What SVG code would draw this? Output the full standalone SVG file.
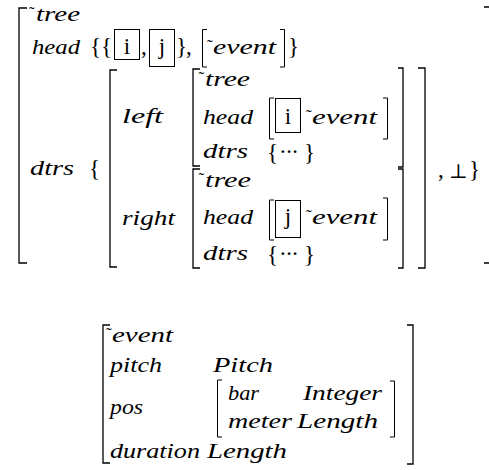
<svg xmlns="http://www.w3.org/2000/svg" width="489" height="470" viewBox="0 0 489 470">
  <style>
    .it { font-family: "Liberation Serif", "DejaVu Serif", serif; font-style: italic; font-size: 22px; fill: #000; }
    .rm { font-family: "Liberation Serif", "DejaVu Serif", serif; font-size: 23px; fill: #000; }
    .tl { font-family: "Liberation Serif", "DejaVu Serif", serif; font-size: 17px; fill: #000; }
    .sym { font-family: "DejaVu Serif", "Liberation Serif", serif; font-size: 20px; fill: #000; }
    .br { fill: none; stroke: #000; stroke-width: 1.3; }
    .ib { fill: none; stroke: #000; stroke-width: 1; }
    .bx { fill: none; stroke: #000; stroke-width: 1; }
  </style>
  <rect width="489" height="470" fill="#fff"/>

  <!-- tree structure -->
  <g id="tree-avm">
    <path class="br" d="M27,8 H19 V263 H27"/>
    <path class="br" d="M484,7 H490 V263 H484"/>
    <text class="tl" x="29" y="18">˜</text>
    <text class="it" x="36" y="21" textLength="44" lengthAdjust="spacingAndGlyphs">tree</text>

    <g id="tree-head">
      <text class="it" x="32" y="54" textLength="48" lengthAdjust="spacingAndGlyphs">head</text>
      <text class="rm" x="90" y="54">{</text>
      <text class="rm" x="101" y="54">{</text>
      <rect class="bx" x="114.5" y="29.5" width="25" height="30"/>
      <text class="rm" x="127" y="54" text-anchor="middle">i</text>
      <text class="rm" x="141" y="54">,</text>
      <rect class="bx" x="149.5" y="29.5" width="25" height="37"/>
      <text class="rm" x="162" y="54" text-anchor="middle">j</text>
      <text class="rm" x="176" y="54">}</text>
      <text class="rm" x="186" y="54">,</text>
      <path class="ib" d="M207,29.5 H202.5 V67 H207"/>
      <text class="tl" x="207" y="51">˜</text>
      <text class="it" x="213" y="54" textLength="63" lengthAdjust="spacingAndGlyphs">event</text>
      <path class="ib" d="M280,29.5 H284.5 V67 H280"/>
      <text class="rm" x="288" y="54">}</text>
    </g>

    <g id="tree-dtrs">
      <text class="it" x="30" y="175" textLength="44" lengthAdjust="spacingAndGlyphs">dtrs</text>
      <text class="rm" x="89" y="176">{</text>
      <path class="br" d="M117,70 H110 V267 H117"/>
      <path class="br" d="M418,68 H425 V268 H418"/>
      <text class="it" x="122" y="123" textLength="41" lengthAdjust="spacingAndGlyphs">left</text>
      <text class="it" x="122" y="225" textLength="53" lengthAdjust="spacingAndGlyphs">right</text>
      <text class="rm" x="438" y="177">,</text>
      <text class="sym" x="449" y="178">⊥</text>
      <text class="rm" x="469" y="177">}</text>
    </g>
  </g>

  <!-- left daughter -->
  <g id="left-avm">
    <path class="br" d="M200,69 H193 V166 H200"/>
    <path class="br" d="M398,68 H403 V167 H398"/>
    <text class="tl" x="198.5" y="83">˜</text>
    <text class="it" x="205" y="86" textLength="45" lengthAdjust="spacingAndGlyphs">tree</text>
    <text class="it" x="203" y="124" textLength="50" lengthAdjust="spacingAndGlyphs">head</text>
    <path class="ib" d="M274,98 H269.5 V139 H274"/>
    <rect class="bx" x="275.5" y="98.5" width="25" height="34"/>
    <text class="rm" x="288" y="124" text-anchor="middle">i</text>
    <text class="tl" x="306" y="121">˜</text>
    <text class="it" x="312" y="124" textLength="65" lengthAdjust="spacingAndGlyphs">event</text>
    <path class="ib" d="M383,98 H387.5 V139 H383"/>
    <text class="it" x="203" y="158" textLength="45" lengthAdjust="spacingAndGlyphs">dtrs</text>
    <text class="rm" x="267" y="160">{</text>
    <text class="rm" x="279" y="159" textLength="20">···</text>
    <text class="rm" x="304" y="160">}</text>
  </g>

  <!-- right daughter -->
  <g id="right-avm">
    <path class="br" d="M200,169 H193 V268 H200"/>
    <path class="br" d="M398,169 H403 V268 H398"/>
    <text class="tl" x="198.5" y="184">˜</text>
    <text class="it" x="205" y="187" textLength="46" lengthAdjust="spacingAndGlyphs">tree</text>
    <text class="it" x="203" y="224" textLength="50" lengthAdjust="spacingAndGlyphs">head</text>
    <path class="ib" d="M274,200 H269.5 V240 H274"/>
    <rect class="bx" x="275.5" y="200.5" width="25" height="37"/>
    <text class="rm" x="288" y="224" text-anchor="middle">j</text>
    <text class="tl" x="306" y="221">˜</text>
    <text class="it" x="312" y="224" textLength="65" lengthAdjust="spacingAndGlyphs">event</text>
    <path class="ib" d="M383,198 H387.5 V240 H383"/>
    <text class="it" x="203" y="260" textLength="45" lengthAdjust="spacingAndGlyphs">dtrs</text>
    <text class="rm" x="267" y="262">{</text>
    <text class="rm" x="279" y="261" textLength="20">···</text>
    <text class="rm" x="304" y="262">}</text>
  </g>

  <!-- event structure -->
  <g id="event-avm">
    <path class="br" d="M110,325 H103 V463 H110"/>
    <path class="br" d="M407,325 H413 V464 H407"/>
    <text class="tl" x="106" y="339">˜</text>
    <text class="it" x="112" y="342" textLength="61" lengthAdjust="spacingAndGlyphs">event</text>
    <text class="it" x="110" y="372" textLength="52" lengthAdjust="spacingAndGlyphs">pitch</text>
    <text class="it" x="213" y="372" textLength="60" lengthAdjust="spacingAndGlyphs">Pitch</text>
    <text class="it" x="110" y="414" textLength="33" lengthAdjust="spacingAndGlyphs">pos</text>
    <g id="pos-avm">
      <path class="ib" d="M222,380 H217.5 V437 H222"/>
      <path class="ib" d="M390,381 H394.5 V437 H390"/>
      <text class="it" x="228" y="400" textLength="31" lengthAdjust="spacingAndGlyphs">bar</text>
      <text class="it" x="303" y="400" textLength="79" lengthAdjust="spacingAndGlyphs">Integer</text>
      <text class="it" x="228" y="428" textLength="64" lengthAdjust="spacingAndGlyphs">meter</text>
      <text class="it" x="297" y="428" textLength="81" lengthAdjust="spacingAndGlyphs">Length</text>
    </g>
    <text class="it" x="110" y="458" textLength="90" lengthAdjust="spacingAndGlyphs">duration</text>
    <text class="it" x="207" y="458" textLength="80" lengthAdjust="spacingAndGlyphs">Length</text>
  </g>
</svg>
